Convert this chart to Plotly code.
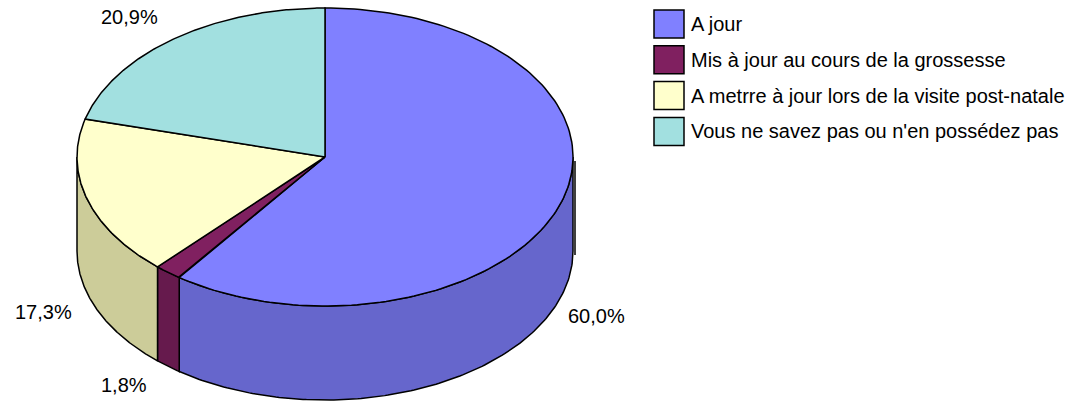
import numpy as np
import plotly.graph_objects as go

# ---- data ----
labels = [
    "A jour",
    "Mis à jour au cours de la grossesse",
    "A metrre à jour lors de la visite post-natale",
    "Vous ne savez pas ou n'en possédez pas",
]
values = [60.0, 1.8, 17.3, 20.9]
value_text = ["60,0%", "1,8%", "17,3%", "20,9%"]

top_colors = ["#8080FF", "#802060", "#FFFFCC", "#A2E0E0"]
side_colors = ["#6666CC", "#661A4D", "#CCCC99", "#80B3B3"]

# ---- pie geometry (pixel space) ----
CX, CY = 325, 157      # centre of the top face
RX, RY = 248, 149      # ellipse radii
DEPTH = 94             # thickness of the pie
FONT = "Liberation Sans, Arial, sans-serif"


def rim(t0, t1, drop=0, n=160):
    # angles in degrees, clockwise from 12 o'clock
    t = np.radians(np.linspace(t0, t1, n))
    return CX + RX * np.sin(t), CY - RY * np.cos(t) + drop


bounds = np.concatenate([[0], np.cumsum(values)]) / sum(values) * 360

fig = go.Figure()
edge = dict(color="black", width=1.5)

# side walls (only the front half is visible)
for i in range(len(values)):
    s0, s1 = max(bounds[i], 90), min(bounds[i + 1], 270)
    if s1 <= s0:
        continue
    xt, yt = rim(s0, s1)
    xb, yb = rim(s0, s1, DEPTH)
    x = np.concatenate([xt, xb[::-1], xt[:1]])
    y = np.concatenate([yt, yb[::-1], yt[:1]])
    fig.add_trace(go.Scatter(x=x, y=y, mode="lines", fill="toself",
                             fillcolor=side_colors[i], line=edge,
                             hoverinfo="skip", showlegend=False))

# top faces
for i in range(len(values)):
    xt, yt = rim(bounds[i], bounds[i + 1])
    x = np.concatenate([[CX], xt, [CX]])
    y = np.concatenate([[CY], yt, [CY]])
    fig.add_trace(go.Scatter(x=x, y=y, mode="lines", fill="toself",
                             fillcolor=top_colors[i], line=edge,
                             hoverinfo="text", text=labels[i], showlegend=False))

# small stray edge line at the right of the wall (as in the original render)
fig.add_shape(type="line", x0=CX + RX + 2, x1=CX + RX + 2,
              y0=CY + 4, y1=CY + DEPTH + 4, line=dict(color="black", width=1.5))

# percentage labels
for i in range(len(values)):
    m = np.radians((bounds[i] + bounds[i + 1]) / 2)
    front = np.cos(m) < 0
    lx = CX + RX * np.sin(m) + 40 * np.sign(np.sin(m)) - 4
    ly = CY - RY * np.cos(m) + (DEPTH + 19 if front else -22)
    fig.add_annotation(x=lx, y=ly, text=value_text[i], showarrow=False,
                       xanchor="center", yanchor="middle",
                       font=dict(family=FONT, size=20, color="black"))

# legend
for i, name in enumerate(labels):
    yc = 24 + i * 35.8
    fig.add_shape(type="rect", x0=654, x1=684, y0=yc - 14, y1=yc + 14,
                  fillcolor=top_colors[i], line=dict(color="black", width=1.5))
    fig.add_annotation(x=689, y=yc, text=name, showarrow=False,
                       xanchor="left", yanchor="middle",
                       font=dict(family=FONT, size=20, color="black"))

fig.update_layout(
    width=1078, height=403,
    margin=dict(l=0, r=0, t=0, b=0),
    paper_bgcolor="white", plot_bgcolor="white",
    xaxis=dict(range=[0, 1078], visible=False, fixedrange=True),
    yaxis=dict(range=[403, 0], visible=False, fixedrange=True),
)

fig.write_html("out.html", config={"displayModeBar": False},
               post_script="document.body.style.margin='0';document.body.style.overflow='hidden';")
